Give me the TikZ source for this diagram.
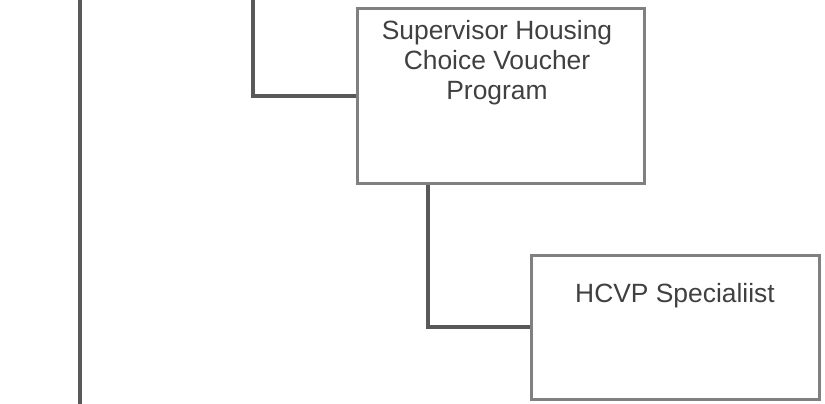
\documentclass[tikz,border=0pt]{standalone}
\usepackage{fontspec}
\setmainfont{Liberation Sans}
\usetikzlibrary{backgrounds}
\definecolor{connc}{HTML}{595959}
\definecolor{boxc}{HTML}{808080}
\definecolor{txtc}{HTML}{404040}
\begin{document}
\begin{tikzpicture}[x=1pt,y=1pt,
  conn/.style={draw=connc,line width=3.5pt},
  orgbox/.style={draw=boxc,line width=3pt,fill=white,rectangle,inner sep=0pt},
  lbl/.style={text=txtc,font=\fontsize{26.4}{30}\selectfont,align=center,inner sep=0pt}]
\useasboundingbox (0,0) rectangle (825,-404);
\coordinate (l1) at (80,0);
\coordinate (l2) at (80,-404);
\coordinate (c1) at (253,0);
\coordinate (c2) at (428,-183);
\node[orgbox,minimum width=287pt,minimum height=174pt] (b1) at (500.5,-96) {};
\node[orgbox,minimum width=288pt,minimum height=144pt] (b2) at (675,-327) {};
\node[lbl,anchor=north] (t1) at (497,-20.5) {Supervisor Housing\\Choice Voucher\\Program};
\node[lbl,anchor=base] (t2) at (675,-302) {HCVP Specialiist};
\begin{scope}[on background layer]
\draw[conn] (l1) -- (l2);
\draw[conn] (c1) |- (b1.west);
\draw[conn] (c2) |- (b2.west);
\end{scope}
\end{tikzpicture}
\end{document}
